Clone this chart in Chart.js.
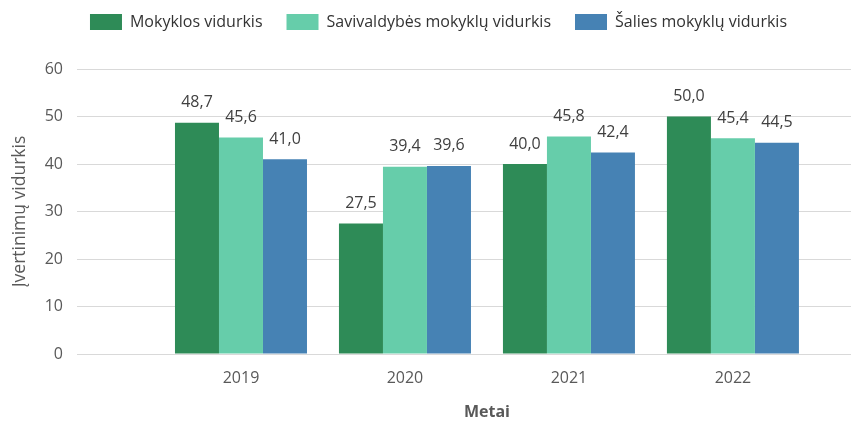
<!DOCTYPE html>
<html>
<head>
<meta charset="utf-8">
<script src="https://cdn.jsdelivr.net/npm/chart.js@4"></script>
<style>
  html, body { margin: 0; padding: 0; background: #fff; }
  #wrap { width: 852px; height: 421px; }
</style>
</head>
<body>
<div id="wrap"><canvas id="myChart"></canvas></div>
<script>
// data
const years = [2019, 2020, 2021, 2022];
const mokyklos = [48.7, 27.5, 40.0, 50.0];
const savivaldybes = [45.6, 39.4, 45.8, 45.4];
const salies = [41.0, 39.6, 42.4, 44.5];
const seriesNames = ['Mokyklos vidurkis', 'Savivaldybės mokyklų vidurkis', 'Šalies mokyklų vidurkis'];
const yTicks = [0, 10, 20, 30, 40, 50, 60];

const font = '"Open Sans", "DejaVu Sans", sans-serif';
const grey = '#595959';

const toPoints = arr => years.map((x, i) => ({ x: x, y: arr[i] }));
const fmt = v => v.toFixed(1).replace('.', ',');

// value labels above the bars
const barLabels = {
  id: 'barLabels',
  afterDatasetsDraw(chart) {
    const c = chart.ctx;
    c.save();
    c.font = '16px ' + font;
    c.fillStyle = '#404040';
    c.textAlign = 'center';
    c.textBaseline = 'middle';
    chart.data.datasets.forEach((ds, i) => {
      chart.getDatasetMeta(i).data.forEach((bar, j) => {
        c.fillText(fmt(ds.data[j].y), bar.x, bar.y - 20);
      });
    });
    c.restore();
  },
  afterDraw(chart) {
    // x axis title, centred under the year groups
    const x = chart.scales.x;
    const c = chart.ctx;
    c.save();
    c.font = 'bold 16px ' + font;
    c.fillStyle = grey;
    c.textAlign = 'center';
    c.textBaseline = 'middle';
    c.fillText('Metai', (x.getPixelForValue(years[0]) + x.getPixelForValue(years[years.length - 1])) / 2, 412);
    c.restore();
  }
};

// legend height + a little shift to the right
const legendFix = {
  id: 'legendFix',
  beforeInit(chart) {
    const fit = chart.legend.fit;
    chart.legend.fit = function () {
      fit.call(this);
      this.height = 79;
    };
  },
  afterLayout(chart) {
    chart.legend.left += 26;
  }
};

const ctx = document.getElementById('myChart').getContext('2d');

const myChart = new Chart(ctx, {
  type: 'bar',
  data: {
    datasets: [{
      label: seriesNames[0],
      data: toPoints(mokyklos),
      backgroundColor: '#2e8b57'
    }, {
      label: seriesNames[1],
      data: toPoints(savivaldybes),
      backgroundColor: '#66cdaa'
    }, {
      label: seriesNames[2],
      data: toPoints(salies),
      backgroundColor: '#4682b4'
    }]
  },
  options: {
    responsive: true,
    maintainAspectRatio: false,
    animation: false,
    categoryPercentage: 0.805,
    barPercentage: 1,
    layout: { padding: { top: -10, left: 0, right: 1, bottom: 0 } },
    plugins: {
      legend: {
        position: 'top',
        labels: {
          boxWidth: 32,
          boxHeight: 16,
          padding: 24,
          color: '#333',
          font: { family: font, size: 16 }
        }
      },
      tooltip: { enabled: false }
    },
    scales: {
      x: {
        type: 'linear',
        offset: false,
        min: 2018,
        max: 2022.72,
        grid: { display: false, drawTicks: false },
        border: { display: false },
        afterBuildTicks: s => { s.ticks = years.map(v => ({ value: v })); },
        afterFit: s => { s.height = 67; },
        ticks: {
          padding: 15,
          color: grey,
          font: { family: font, size: 16 },
          callback: v => String(v)
        }
      },
      y: {
        min: 0,
        max: 60,
        afterBuildTicks: s => { s.ticks = yTicks.map(v => ({ value: v })); },
        afterFit: s => { s.width = 77; },
        grid: { color: '#d9d9d9', lineWidth: 1, drawTicks: false },
        border: { display: false },
        ticks: {
          padding: 14,
          color: grey,
          font: { family: font, size: 16 }
        },
        title: {
          display: true,
          text: 'Įvertinimų vidurkis',
          color: grey,
          font: { family: font, size: 17.5 },
          padding: { top: 10, bottom: 0 }
        }
      }
    }
  },
  plugins: [barLabels, legendFix]
});
</script>
</body>
</html>
